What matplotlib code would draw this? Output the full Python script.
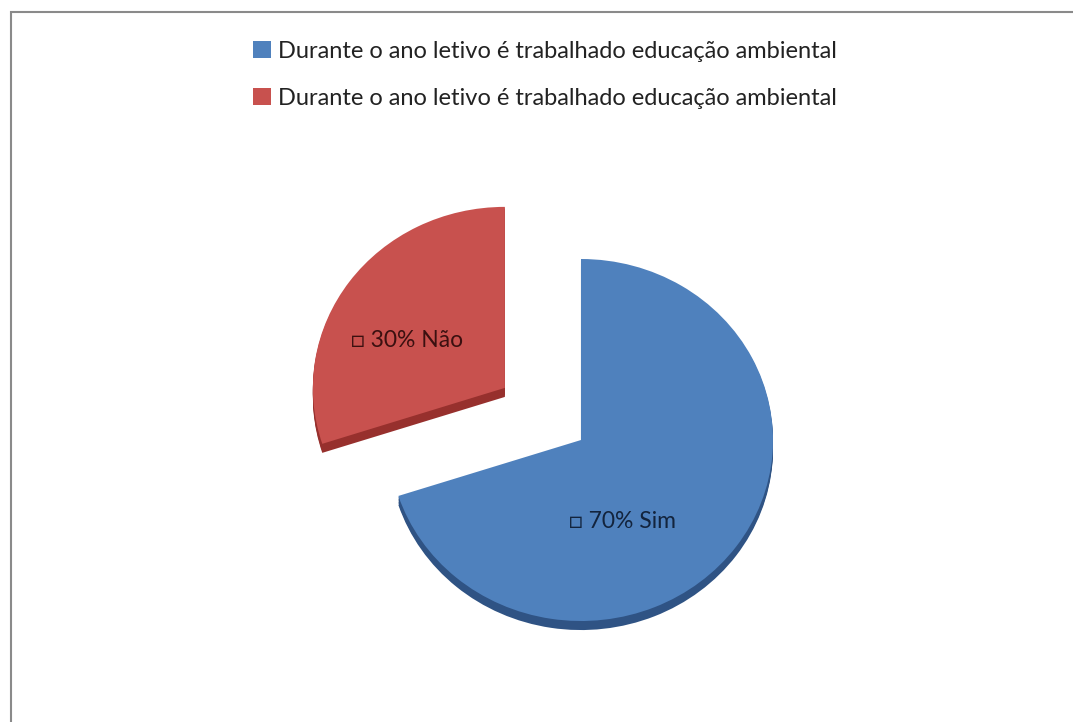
import matplotlib.pyplot as plt
from matplotlib.patches import Rectangle

plt.rcParams['font.family'] = ['Lato', 'DejaVu Sans']

# data
labels = ['Sim', 'Não']
values = [70, 30]
legend_labels = ['Durante o ano letivo é trabalhado educação ambiental',
                 'Durante o ano letivo é trabalhado educação ambiental']
explode = [0, 0.49]
top_colors = ['#4F81BD', '#C8514E']
side_colors = ['#2F5384', '#97302D']

fig = plt.figure(figsize=(10.73, 7.22), dpi=100)
ax = fig.add_axes([0, 0, 1, 1])

# fake 3d depth: stack a few shifted copies under the top
depth = 0.05
for k in range(6, 0, -1):
    ax.pie(values, explode=explode, colors=side_colors, startangle=90,
           counterclock=False, center=(0, -depth * k / 6), radius=1,
           wedgeprops=dict(linewidth=0))

wedges, _ = ax.pie(values, explode=explode, colors=top_colors, startangle=90,
                   counterclock=False, center=(0, 0), radius=1,
                   wedgeprops=dict(linewidth=0))

ax.set_aspect('auto')
ax.set_xlim(-3.026, 2.5625)
ax.set_ylim(-1.558, 2.431)
ax.axis('off')

# data labels
ax.text(0.214, -0.453, '□ 70% ' + labels[0], fontsize=16.5, color='#13243d',
        ha='center', va='center')
ax.text(-0.906, 0.552, '□ 30% ' + labels[1], fontsize=16.5, color='#3b1010',
        ha='center', va='center')

fig.legend(wedges, legend_labels, loc='center',
           bbox_to_anchor=(545 / 1073, 1 - 75 / 722), frameon=False,
           fontsize=17, handlelength=0.75, handleheight=0.75, handletextpad=0.3,
           labelspacing=1.1, labelcolor='#222222')

# chart area border (only top and left visible)
fig.add_artist(Rectangle((11 / 1073, -0.2), 1.5, 1.2 - 12 / 722,
                         transform=fig.transFigure, fill=False,
                         edgecolor='#8a8a8a', linewidth=1.5))

fig.savefig('out.png', dpi=100)
